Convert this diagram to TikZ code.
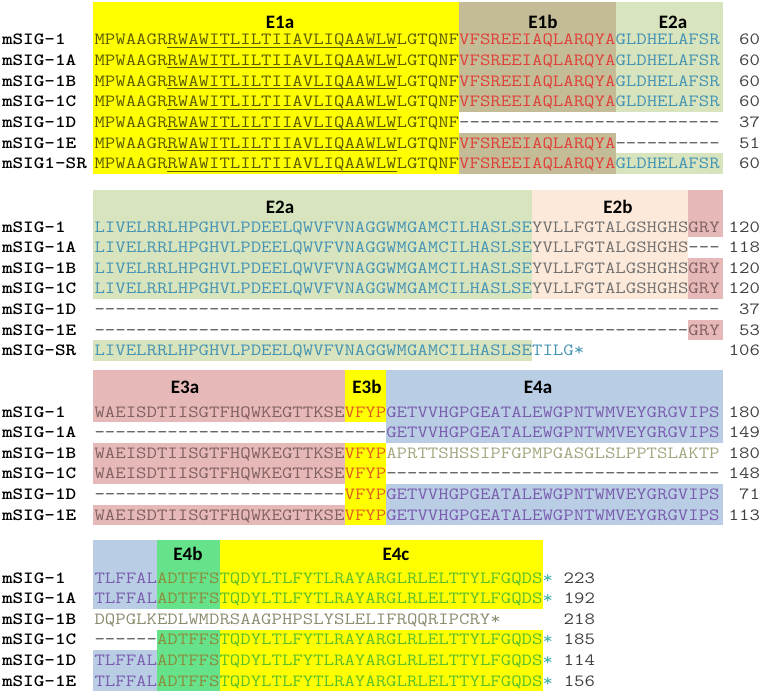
\documentclass[tikz,border=0pt]{standalone}
\usepackage{fontspec}
\usepackage{graphicx}
\newfontfamily\hdrfont{Carlito}
\definecolor{yel}{HTML}{FFFF00}
\definecolor{tan}{HTML}{C4BC96}
\definecolor{lgreen}{HTML}{D7E4BD}
\definecolor{peach}{HTML}{FDE9D9}
\definecolor{pink}{HTML}{E6B9B8}
\definecolor{lblue}{HTML}{B9CDE5}
\definecolor{bgreen}{HTML}{66E28A}
\definecolor{eat}{HTML}{5C5C00}
\definecolor{ebt}{HTML}{E0403A}
\definecolor{ect}{HTML}{4593B5}
\definecolor{edt}{HTML}{707070}
\definecolor{eet}{HTML}{806060}
\definecolor{eft}{HTML}{E06020}
\definecolor{egt}{HTML}{7A5CAE}
\definecolor{eht}{HTML}{8C8C3C}
\definecolor{eit}{HTML}{5CBF2A}
\definecolor{stc}{HTML}{3FB0A8}
\definecolor{sage}{HTML}{A0A880}
\definecolor{olv}{HTML}{8C8C70}
\definecolor{dashc}{HTML}{404040}
\definecolor{numc}{HTML}{404040}
\newcommand\seqfont{\ttfamily\fontsize{20.23}{22}\selectfont}
\newcommand\sqz[1]{\scalebox{1}[0.845]{#1}}
\newcommand\cw{10.42}
\newcommand\xo{94.5}
\newcommand\aaseg[4]{\node[seqt,text=#3] at ({\xo+#2*\cw},{#1+5}) {\sqz{#4}};}
\newcommand\aabox[5]{\fill[#5] ({\xo+#1*\cw},#3) rectangle ({\xo+#2*\cw},#4);}
\newcommand\aalab[2]{\node[lab] at (2,{#1+5}) {\sqz{#2}};}
\newcommand\aanum[3]{\node[num] at (#1,{#2+5}) {\sqz{#3}};}
\newcommand\aaEa[1]{\aaseg{#1}{0}{eat}{MPWAAGRRWAWITLILTIIAVLIQAAWLWLGTQNF}\draw[eat,line width=0.8pt] ({\xo+7*\cw},{#1+7.3}) -- ({\xo+29*\cw},{#1+7.3});}
\begin{document}
\begin{tikzpicture}[x=1pt,y=-1pt,
 seqt/.style={inner sep=0pt,outer sep=0pt,font=\seqfont,anchor=base west},
 lab/.style={inner sep=0pt,outer sep=0pt,font=\seqfont\bfseries,text=black,anchor=base west},
 num/.style={inner sep=0pt,outer sep=0pt,font=\seqfont,text=numc,anchor=base east},
 hdr/.style={inner sep=0pt,font=\hdrfont\bfseries\fontsize{19}{21}\selectfont,text=black,anchor=base}]
\useasboundingbox (0,0) rectangle (764,693);
\fill[white] (0,0) rectangle (764,693);
% ================= Block 1 =================
\aabox{-0.15}{35}{2}{174}{yel}
\aabox{35}{50}{2}{112.1}{tan}
\aabox{35}{50}{132.7}{174}{tan}
\aabox{50}{60.3}{2}{112.1}{lgreen}
\aabox{50}{60.3}{153.3}{174}{lgreen}
\node[hdr] (h1) at (280,28.5) {E1a};
\node[hdr] (h2) at (543,28.5) {E1b};
\node[hdr] (h3) at (673,28.5) {E2a};
\foreach \y/\l in {40/mSIG-1,60.6/mSIG-1A,81.2/mSIG-1B,101.8/mSIG-1C,163.6/mSIG1-SR}{
  \aalab{\y}{\l}
  \aaEa{\y}
  \aaseg{\y}{35}{ebt}{VFSREEIAQLARQYA}
  \aaseg{\y}{50}{ect}{GLDHELAFSR}
  \aanum{760}{\y}{60}
}
\aalab{122.4}{mSIG-1D}
\aaEa{122.4}
\aaseg{122.4}{35}{dashc}{-------------------------}
\aanum{760}{122.4}{37}
\aalab{143}{mSIG-1E}
\aaEa{143}
\aaseg{143}{35}{ebt}{VFSREEIAQLARQYA}
\aaseg{143}{50}{dashc}{----------}
\aanum{760}{143}{51}
% ================= Block 2 =================
\aabox{-0.15}{42}{190}{299.1}{lgreen}
\aabox{-0.15}{42}{340.3}{360.9}{lgreen}
\aabox{42}{57}{190}{299.1}{peach}
\aabox{57}{60.3}{190}{237.3}{pink}
\aabox{57}{60.3}{257.9}{299.1}{pink}
\aabox{57}{60.3}{319.7}{340.3}{pink}
\node[hdr] (h4) at (280,213.5) {E2a};
\node[hdr] (h5) at (618,213.5) {E2b};
\foreach \y/\l/\g/\n in {227/mSIG-1/1/120,247.6/mSIG-1A/0/118,268.2/mSIG-1B/1/120,288.8/mSIG-1C/1/120}{
  \aalab{\y}{\l}
  \aaseg{\y}{0}{ect}{LIVELRRLHPGHVLPDEELQWVFVNAGGWMGAMCILHASLSE}
  \aaseg{\y}{42}{edt}{YVLLFGTALGSHGHS}
  \ifnum\g=1 \aaseg{\y}{57}{eet}{GRY}\else\aaseg{\y}{57}{dashc}{---}\fi
  \aanum{760}{\y}{\n}
}
\aalab{309.4}{mSIG-1D}
\aaseg{309.4}{0}{dashc}{------------------------------------------------------------}
\aanum{760}{309.4}{37}
\aalab{330}{mSIG-1E}
\aaseg{330}{0}{dashc}{---------------------------------------------------------}
\aaseg{330}{57}{eet}{GRY}
\aanum{760}{330}{53}
\aalab{350.6}{mSIG-SR}
\aaseg{350.6}{0}{ect}{LIVELRRLHPGHVLPDEELQWVFVNAGGWMGAMCILHASLSE}
\aaseg{350.6}{42}{ect}{TILG*}
\aanum{760}{350.6}{106}
% ================= Block 3 =================
\aabox{-0.15}{24}{370}{422.3}{pink}
\aabox{-0.15}{24}{442.9}{484.1}{pink}
\aabox{-0.15}{24}{504.7}{525.3}{pink}
\aabox{24}{28}{370}{422.3}{yel}
\aabox{24}{28}{442.9}{525.3}{yel}
\aabox{28}{60.3}{370}{442.9}{lblue}
\aabox{28}{60.3}{484.1}{525.3}{lblue}
\node[hdr] (h6) at (185,393.5) {E3a};
\node[hdr] (h7) at (367,393.5) {E3b};
\node[hdr] (h8) at (538,393.5) {E4a};
\foreach \y/\l/\n in {412/mSIG-1/180,515/mSIG-1E/113}{
  \aalab{\y}{\l}
  \aaseg{\y}{0}{eet}{WAEISDTIISGTFHQWKEGTTKSE}
  \aaseg{\y}{24}{eft}{VFYP}
  \aaseg{\y}{28}{egt}{GETVVHGPGEATALEWGPNTWMVEYGRGVIPS}
  \aanum{760}{\y}{\n}
}
\aalab{432.6}{mSIG-1A}
\aaseg{432.6}{0}{dashc}{----------------------------}
\aaseg{432.6}{28}{egt}{GETVVHGPGEATALEWGPNTWMVEYGRGVIPS}
\aanum{760}{432.6}{149}
\aalab{453.2}{mSIG-1B}
\aaseg{453.2}{0}{eet}{WAEISDTIISGTFHQWKEGTTKSE}
\aaseg{453.2}{24}{eft}{VFYP}
\aaseg{453.2}{28}{sage}{APRTTSHSSIPFGPMPGASGLSLPPTSLAKTP}
\aanum{760}{453.2}{180}
\aalab{473.8}{mSIG-1C}
\aaseg{473.8}{0}{eet}{WAEISDTIISGTFHQWKEGTTKSE}
\aaseg{473.8}{24}{eft}{VFYP}
\aaseg{473.8}{28}{dashc}{--------------------------------}
\aanum{760}{473.8}{148}
\aalab{494.4}{mSIG-1D}
\aaseg{494.4}{0}{dashc}{------------------------}
\aaseg{494.4}{24}{eft}{VFYP}
\aaseg{494.4}{28}{egt}{GETVVHGPGEATALEWGPNTWMVEYGRGVIPS}
\aanum{760}{494.4}{71}
% ================= Block 4 =================
\aabox{-0.15}{6}{540}{608.9}{lblue}
\aabox{-0.15}{6}{650.1}{691.3}{lblue}
\aabox{6}{12}{540}{608.9}{bgreen}
\aabox{6}{12}{629.5}{691.3}{bgreen}
\aabox{12}{43}{540}{608.9}{yel}
\aabox{12}{43}{629.5}{691.3}{yel}
\node[hdr] (h9) at (188,560.5) {E4b};
\node[hdr] (h10) at (396,560.5) {E4c};
\foreach \y/\l/\n in {578/mSIG-1/223,598.6/mSIG-1A/192,660.4/mSIG-1D/114,681/mSIG-1E/156}{
  \aalab{\y}{\l}
  \aaseg{\y}{0}{egt}{TLFFAL}
  \aaseg{\y}{6}{eht}{ADTFFS}
  \aaseg{\y}{12}{eit}{TQDYLTLFYTLRAYARGLRLELTTYLFGQDS}
  \aaseg{\y}{43}{stc}{*}
  \aanum{595}{\y}{\n}
}
\aalab{619.2}{mSIG-1B}
\aaseg{619.2}{0}{olv}{DQPGLKEDLWMDRSAAGPHPSLYSLELIFRQQRIPCRY*}
\aanum{595}{619.2}{218}
\aalab{639.8}{mSIG-1C}
\aaseg{639.8}{0}{dashc}{------}
\aaseg{639.8}{6}{eht}{ADTFFS}
\aaseg{639.8}{12}{eit}{TQDYLTLFYTLRAYARGLRLELTTYLFGQDS}
\aaseg{639.8}{43}{stc}{*}
\aanum{595}{639.8}{185}
\end{tikzpicture}
\end{document}
